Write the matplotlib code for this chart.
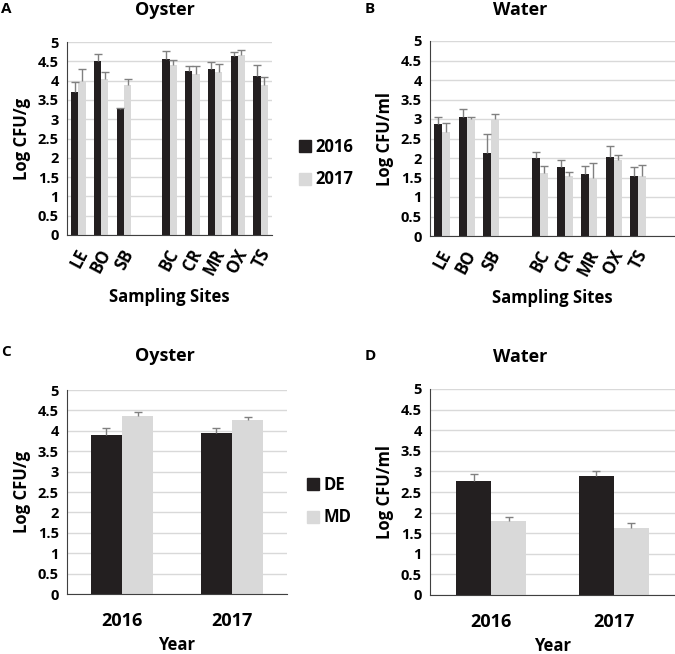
import matplotlib.pyplot as plt
import matplotlib.transforms as mtransforms
import numpy as np

plt.rcParams['font.family'] = ['Open Sans', 'DejaVu Sans']
plt.rcParams['font.weight'] = 'bold'

# panel A / B data (sites; one empty slot between SB and BC)
sites = ['LE', 'BO', 'SB', 'BC', 'CR', 'MR', 'OX', 'TS']
site_slots = [0, 1, 2, 4, 5, 6, 7, 8]

oyster_2016 = [3.71, 4.51, 3.26, 4.57, 4.25, 4.31, 4.64, 4.11]
oyster_2016_err = [0.26, 0.19, 0.02, 0.19, 0.13, 0.17, 0.10, 0.29]
oyster_2017 = [4.00, 4.03, 3.88, 4.41, 4.18, 4.22, 4.67, 3.88]
oyster_2017_err = [0.31, 0.19, 0.15, 0.12, 0.20, 0.22, 0.13, 0.21]

water_2016 = [2.87, 3.05, 2.13, 1.99, 1.77, 1.58, 2.02, 1.54]
water_2016_err = [0.17, 0.21, 0.49, 0.17, 0.18, 0.22, 0.28, 0.23]
water_2017 = [2.67, 2.99, 3.00, 1.62, 1.55, 1.49, 1.96, 1.54]
water_2017_err = [0.24, 0.06, 0.14, 0.18, 0.10, 0.39, 0.11, 0.29]

# panel C / D data (states by year)
years = ['2016', '2017']
oyster_de = [3.89, 3.95]
oyster_de_err = [0.19, 0.13]
oyster_md = [4.37, 4.26]
oyster_md_err = [0.08, 0.09]

water_de = [2.77, 2.89]
water_de_err = [0.17, 0.11]
water_md = [1.79, 1.63]
water_md_err = [0.10, 0.11]

DARK = '#231f20'
LIGHT = '#d9d9d9'
ERR = '#808080'
W, H = 675, 654


def px_axes(fig, x0, x1, y0, y1):
    return fig.add_axes([x0 / W, 1 - y1 / H, (x1 - x0) / W, (y1 - y0) / H])


def style(ax, ylabel):
    ax.set_ylim(0, 5)
    ax.set_yticks(np.arange(0, 5.01, 0.5))
    ax.set_yticklabels(['0', '0.5', '1', '1.5', '2', '2.5', '3', '3.5', '4', '4.5', '5'])
    ax.yaxis.grid(True, color='#d9d9d9', linewidth=1)
    ax.set_axisbelow(True)
    for s in ['top', 'right']:
        ax.spines[s].set_visible(False)
    ax.spines['left'].set_color('#404040')
    ax.spines['bottom'].set_color('#404040')
    ax.tick_params(axis='y', length=0, labelsize=10.5, pad=6)
    ax.tick_params(axis='x', length=0)
    ax.set_ylabel(ylabel, fontsize=12, fontweight='bold', labelpad=5)


def upper_err(ax, x, y, e):
    eb = ax.errorbar(x, y, yerr=[np.zeros(len(y)), e], fmt='none',
                     ecolor=ERR, elinewidth=1, capsize=3, capthick=1, zorder=3)
    eb[1][0].set_visible(False)  # drop the cap sitting on the bar top


def pair(ax, x, a, a_err, b, b_err, w):
    x = np.asarray(x, dtype=float)
    ax.bar(x - w / 2, a, w, color=DARK, zorder=2)
    ax.bar(x + w / 2, b, w, color=LIGHT, zorder=2)
    upper_err(ax, x - w / 2, a, a_err)
    upper_err(ax, x + w / 2, b, b_err)


def site_ticks(fig, ax):
    ax.set_xticks(site_slots)
    ax.set_xticklabels(sites, rotation=62, ha='right', va='center',
                       rotation_mode='anchor', fontsize=12)
    ax.tick_params(axis='x', pad=11)
    shift = mtransforms.ScaledTranslation(5 / 100, 0, fig.dpi_scale_trans)
    for lab in ax.get_xticklabels():
        lab.set_transform(lab.get_transform() + shift)
    ax.set_xlabel('Sampling Sites', fontsize=12, fontweight='bold', labelpad=7)


fig = plt.figure(figsize=(6.75, 6.54), dpi=100)

# A
axA = px_axes(fig, 67, 272, 42, 235)
pair(axA, site_slots, oyster_2016, oyster_2016_err, oyster_2017, oyster_2017_err, 0.32)
axA.set_xlim(-0.5, 8.5)
style(axA, 'Log CFU/g')
site_ticks(fig, axA)

# B
axB = px_axes(fig, 430, 675, 41, 236)
pair(axB, site_slots, water_2016, water_2016_err, water_2017, water_2017_err, 0.32)
axB.set_xlim(-0.5, 9.5)
style(axB, 'Log CFU/ml')
site_ticks(fig, axB)

# C
axC = px_axes(fig, 67, 287, 390, 594)
pair(axC, [0, 1], oyster_de, oyster_de_err, oyster_md, oyster_md_err, 0.285)
axC.set_xlim(-0.5, 1.5)
style(axC, 'Log CFU/g')
axC.set_xticks([0, 1])
axC.set_xticklabels(years, fontsize=13)
axC.tick_params(axis='x', pad=13)
axC.set_xlabel('Year', fontsize=12, fontweight='bold', labelpad=4)

# D
axD = px_axes(fig, 430, 675, 389, 595)
pair(axD, [0, 1], water_de, water_de_err, water_md, water_md_err, 0.285)
axD.set_xlim(-0.5, 1.5)
style(axD, 'Log CFU/ml')
axD.set_xticks([0, 1])
axD.set_xticklabels(years, fontsize=13)
axD.tick_params(axis='x', pad=13)
axD.set_xlabel('Year', fontsize=12, fontweight='bold', labelpad=4)

# titles and panel letters
for letter, lx, ly, title, tx, ty in [('A', 1, 9, 'Oyster', 165, 10),
                                      ('B', 365, 9, 'Water', 520, 10),
                                      ('C', 1, 352, 'Oyster', 165, 356),
                                      ('D', 365, 356, 'Water', 520, 357)]:
    fig.text(lx / W, 1 - ly / H, letter, fontsize=11, fontweight='bold', va='center', ha='left')
    fig.text(tx / W, 1 - ty / H, title, fontsize=13, fontweight='bold', va='center', ha='center')

# legends
hA = [plt.Rectangle((0, 0), 1, 1, color=DARK), plt.Rectangle((0, 0), 1, 1, color=LIGHT)]
fig.legend(hA, ['2016', '2017'], loc='center left', bbox_to_anchor=(284 / W, 1 - 163 / H),
           frameon=False, handlelength=0.7, handleheight=0.7,
           handletextpad=0.3, labelspacing=0.9, prop={'weight': 'bold', 'size': 12})
fig.legend(hA, ['DE', 'MD'], loc='center left', bbox_to_anchor=(292 / W, 1 - 501 / H),
           frameon=False, handlelength=0.7, handleheight=0.7,
           handletextpad=0.3, labelspacing=0.9, prop={'weight': 'bold', 'size': 12})

fig.savefig('out.png', dpi=100)
